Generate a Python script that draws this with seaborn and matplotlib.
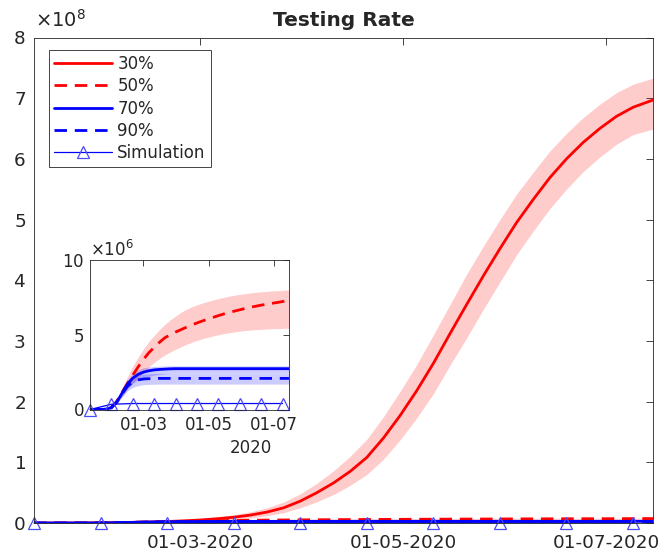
import numpy as np
import pandas as pd
import matplotlib
matplotlib.use("Agg")
import matplotlib.pyplot as plt
import matplotlib.dates as mdates
from matplotlib.ticker import ScalarFormatter
from matplotlib.lines import Line2D
import seaborn as sns

sns.set_style("white")
plt.rcParams['font.family'] = ['DejaVu Sans']
plt.rcParams['lines.dashed_pattern'] = [4.5, 2.8]

# ---------------- data ----------------
start_date = pd.Timestamp("2020-01-11")
day_offsets = [0, 5, 10, 15, 20, 25, 30, 35, 40, 45, 50, 55, 60, 65, 70, 75, 80, 85, 90,
               95, 100, 105, 110, 115, 120, 125, 130, 135, 140, 145, 150, 155, 160, 165,
               170, 175, 180, 186]
dates = start_date + pd.to_timedelta(day_offsets, unit="D")

# 30% (units of 1e8)
r30 = [0, 0, 0.001, 0.002, 0.004, 0.007, 0.011, 0.017, 0.025, 0.035, 0.05, 0.07, 0.095,
       0.13, 0.18, 0.25, 0.36, 0.5, 0.66, 0.85, 1.08, 1.4, 1.77, 2.18, 2.63, 3.12, 3.6,
       4.07, 4.52, 4.95, 5.33, 5.69, 6.0, 6.27, 6.5, 6.7, 6.85, 6.97]
r30_hi = [0, 0, 0.002, 0.004, 0.007, 0.011, 0.017, 0.026, 0.038, 0.052, 0.07, 0.1, 0.135,
          0.185, 0.25, 0.345, 0.48, 0.655, 0.86, 1.1, 1.38, 1.75, 2.17, 2.61, 3.1, 3.6,
          4.1, 4.56, 5.0, 5.42, 5.78, 6.13, 6.42, 6.68, 6.9, 7.09, 7.23, 7.33]
r30_lo = [0, 0, 0, 0.001, 0.002, 0.004, 0.006, 0.009, 0.014, 0.02, 0.03, 0.043, 0.06,
          0.083, 0.12, 0.17, 0.25, 0.35, 0.47, 0.62, 0.8, 1.05, 1.37, 1.73, 2.13, 2.6,
          3.05, 3.52, 3.97, 4.42, 4.81, 5.18, 5.5, 5.79, 6.03, 6.24, 6.4, 6.49]

# 50%, 70%, 90% (units of 1e6)
r50 = [0, 0, 0, 0.03, 0.15, 0.55, 1.15, 1.75, 2.3, 2.85, 3.35, 3.8, 4.15, 4.5, 4.8,
       5.0, 5.18, 5.34, 5.5, 5.65, 5.79, 5.92, 6.04, 6.16, 6.28, 6.39, 6.49, 6.58,
       6.67, 6.76, 6.84, 6.91, 6.98, 7.04, 7.1, 7.16, 7.22, 7.3]
r50_hi = [0, 0, 0, 0.04, 0.18, 0.65, 1.4, 2.2, 2.9, 3.5, 4.05, 4.55, 4.95, 5.35, 5.7,
          6.0, 6.25, 6.5, 6.7, 6.87, 7.0, 7.12, 7.23, 7.33, 7.42, 7.5, 7.58, 7.64, 7.7,
          7.75, 7.8, 7.84, 7.87, 7.9, 7.93, 7.95, 7.97, 8.0]
r50_lo = [0, 0, 0, 0.02, 0.1, 0.4, 0.9, 1.4, 1.8, 2.15, 2.5, 2.85, 3.15, 3.42, 3.65,
          3.85, 4.03, 4.2, 4.35, 4.5, 4.62, 4.73, 4.83, 4.92, 5.0, 5.07, 5.14, 5.19,
          5.24, 5.28, 5.31, 5.34, 5.36, 5.38, 5.4, 5.41, 5.42, 5.43]

b70 = [0, 0, 0, 0.03, 0.12, 0.5, 1.1, 1.7, 2.1, 2.35, 2.5, 2.59, 2.65, 2.68, 2.7,
       2.72, 2.73, 2.73, 2.73, 2.73, 2.73, 2.73, 2.73, 2.73, 2.73, 2.73, 2.73, 2.73,
       2.73, 2.73, 2.73, 2.73, 2.73, 2.73, 2.73, 2.73, 2.73, 2.73]
b70_hi = [0, 0, 0, 0.04, 0.15, 0.6, 1.3, 2.0, 2.42, 2.66, 2.79, 2.85, 2.88, 2.9, 2.91,
          2.92, 2.92, 2.92, 2.92, 2.92, 2.92, 2.92, 2.92, 2.92, 2.92, 2.92, 2.92, 2.92,
          2.92, 2.92, 2.92, 2.92, 2.92, 2.92, 2.92, 2.92, 2.92, 2.92]
b70_lo = [0, 0, 0, 0.02, 0.09, 0.4, 0.9, 1.4, 1.75, 1.98, 2.12, 2.22, 2.3, 2.35, 2.39,
          2.41, 2.42, 2.42, 2.42, 2.42, 2.42, 2.42, 2.42, 2.42, 2.42, 2.42, 2.42, 2.42,
          2.42, 2.42, 2.42, 2.42, 2.42, 2.42, 2.42, 2.42, 2.42, 2.42]

b90 = [0, 0, 0, 0.03, 0.12, 0.5, 1.05, 1.55, 1.85, 1.98, 2.04, 2.06, 2.07, 2.08, 2.08,
       2.08, 2.08, 2.08, 2.08, 2.08, 2.08, 2.08, 2.08, 2.08, 2.08, 2.08, 2.08, 2.08,
       2.08, 2.08, 2.08, 2.08, 2.08, 2.08, 2.08, 2.08, 2.08, 2.08]
b90_hi = [0, 0, 0, 0.04, 0.15, 0.58, 1.25, 1.85, 2.2, 2.32, 2.37, 2.39, 2.4, 2.41, 2.41,
          2.41, 2.41, 2.41, 2.41, 2.41, 2.41, 2.41, 2.41, 2.41, 2.41, 2.41, 2.41, 2.41,
          2.41, 2.41, 2.41, 2.41, 2.41, 2.41, 2.41, 2.41, 2.41, 2.41]
b90_lo = [0, 0, 0, 0.02, 0.09, 0.4, 0.82, 1.25, 1.48, 1.6, 1.66, 1.68, 1.69, 1.7, 1.7,
          1.7, 1.7, 1.7, 1.7, 1.7, 1.7, 1.7, 1.7, 1.7, 1.7, 1.7, 1.7, 1.7, 1.7, 1.7,
          1.7, 1.7, 1.7, 1.7, 1.7, 1.7, 1.7, 1.7]

sim_offsets = [0, 20, 40, 60, 80, 100, 120, 140, 160, 180]
sim_dates = start_date + pd.to_timedelta(sim_offsets, unit="D")
sim = [0, 0.35, 0.4, 0.4, 0.4, 0.4, 0.4, 0.4, 0.4, 0.4]  # units of 1e6

tick_dates = pd.to_datetime(["2020-03-01", "2020-05-01", "2020-07-01"])
x_start, x_end = pd.Timestamp("2020-01-11"), pd.Timestamp("2020-07-15")
legend_labels = ["30%", "50%", "70%", "90%", "Simulation"]

E8, E6 = 1e8, 1e6
RED, BLUE = "#ff0000", "#0000ff"
GREY = "#262626"
MK_EDGE = "#4a4aff"

# ---------------- figure ----------------
W, H = 661, 552
fig = plt.figure(figsize=(W / 100, H / 100), dpi=100)
ax = fig.add_axes([34 / W, 1 - 523 / H, (653 - 34) / W, (523 - 37.5) / H])


def draw_band(a, lo, hi, scale, color):
    a.fill_between(dates, np.array(lo) * scale, np.array(hi) * scale,
                   color=color, alpha=0.2, linewidth=0)


def draw_line(a, vals, scale, color, ls):
    sns.lineplot(x=dates, y=np.array(vals) * scale, ax=a, color=color,
                 linewidth=2, linestyle=ls, estimator=None, sort=False)


def draw_sim(a):
    sns.lineplot(x=sim_dates, y=np.array(sim) * E6, ax=a, color=BLUE, linewidth=0.9,
                 marker="^", markersize=9, markerfacecolor="none",
                 markeredgecolor=MK_EDGE, markeredgewidth=0.9,
                 estimator=None, sort=False, clip_on=False)


# main axes
draw_band(ax, r30_lo, r30_hi, E8, RED)
draw_band(ax, r50_lo, r50_hi, E6, RED)
draw_band(ax, b70_lo, b70_hi, E6, BLUE)
draw_band(ax, b90_lo, b90_hi, E6, BLUE)
draw_line(ax, r30, E8, RED, "-")
draw_line(ax, r50, E6, RED, "--")
draw_line(ax, b70, E6, BLUE, "-")
draw_line(ax, b90, E6, BLUE, "--")
draw_sim(ax)

ax.set_xlim(x_start, x_end)
ax.set_ylim(0, 8e8)
ax.set_yticks(np.arange(0, 9) * 1e8)
ax.set_xticks(tick_dates)
ax.xaxis.set_major_formatter(mdates.DateFormatter("%d-%m-%Y"))
fmt = ScalarFormatter(useMathText=True)
fmt.set_powerlimits((8, 8))
ax.yaxis.set_major_formatter(fmt)
ax.yaxis.get_offset_text().set_visible(False)
fig.text(35 / W, 1 - 27 / H, r"$\times10^{8}$", ha="left", va="baseline",
         fontsize=14, color=GREY)
ax.set_xlabel("")
ax.set_ylabel("")
ax.set_title("Testing Rate", fontsize=14.5, fontweight="bold", pad=8)
ax.tick_params(axis="both", direction="in", top=True, right=True, length=5,
               width=0.6, color=GREY, labelcolor=GREY, labelsize=13.2)
ax.tick_params(axis="x", pad=8)
ax.tick_params(axis="y", pad=6)
for s in ax.spines.values():
    s.set_color(GREY)
    s.set_linewidth(0.6)

handles = [
    Line2D([], [], color=RED, lw=2, ls="-"),
    Line2D([], [], color=RED, lw=2, ls="--"),
    Line2D([], [], color=BLUE, lw=2, ls="-"),
    Line2D([], [], color=BLUE, lw=2, ls="--"),
    Line2D([], [], color=BLUE, lw=0.9, marker="^", markersize=9,
           markerfacecolor="none", markeredgecolor=MK_EDGE, markeredgewidth=0.9),
]
leg = ax.legend(handles, legend_labels, loc="upper left",
                bbox_to_anchor=((49 - 34) / 619, 1 - (50 - 37.5) / 485.5),
                borderaxespad=0, fontsize=12, handlelength=3.5, handletextpad=0.3,
                labelspacing=0.26, borderpad=0.3, fancybox=False, framealpha=1,
                edgecolor=GREY)
leg.get_frame().set_linewidth(0.6)

# inset axes
ins = fig.add_axes([90 / W, 1 - 409.5 / H, (289 - 90) / W, (409.5 - 260) / H])
draw_band(ins, r50_lo, r50_hi, E6, RED)
draw_band(ins, b70_lo, b70_hi, E6, BLUE)
draw_band(ins, b90_lo, b90_hi, E6, BLUE)
draw_line(ins, r50, E6, RED, "--")
draw_line(ins, b70, E6, BLUE, "-")
draw_line(ins, b90, E6, BLUE, "--")
draw_sim(ins)
ins.set_xlim(x_start, x_end)
ins.set_ylim(0, 1e7)
ins.set_yticks([0, 5e6, 1e7])
ins.set_xticks(tick_dates)
ins.xaxis.set_major_formatter(mdates.DateFormatter("%d-%m"))
fmt2 = ScalarFormatter(useMathText=True)
fmt2.set_powerlimits((6, 6))
ins.yaxis.set_major_formatter(fmt2)
ins.set_xlabel("")
ins.set_ylabel("")
ins.tick_params(axis="both", direction="in", top=True, right=True, length=4,
                width=0.6, color=GREY, labelcolor=GREY, labelsize=12)
ins.tick_params(axis="x", pad=5)
ins.tick_params(axis="y", pad=4)
ins.yaxis.get_offset_text().set_fontsize(12)
ins.yaxis.get_offset_text().set_color(GREY)
for s in ins.spines.values():
    s.set_color(GREY)
    s.set_linewidth(0.6)
ins.text((251 - 90) / 199, -(448 - 409.5) / 149.5, "2020", transform=ins.transAxes,
         ha="center", va="center", fontsize=12, color=GREY)

fig.savefig("out.png", dpi=100)
